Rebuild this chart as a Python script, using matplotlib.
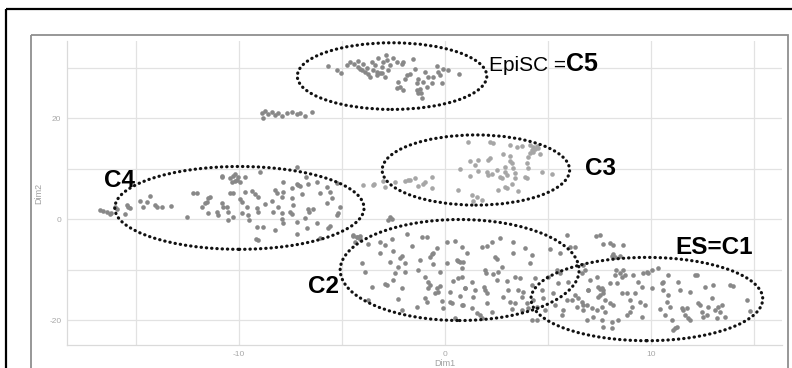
import numpy as np
import matplotlib
matplotlib.use("Agg")
import matplotlib.pyplot as plt
from matplotlib.patches import Ellipse, Rectangle

plt.rcParams['font.family'] = ['Liberation Sans', 'DejaVu Sans']
plt.rcParams['axes.unicode_minus'] = False

#### data (Dim1, Dim2) ####
c5_x = [-5.66, -5.23, -5.06, -4.77, -4.61, -4.42, -4.21, -4.13, -3.96, -3.88, -3.80, -3.72, -3.64,
        -3.56, -3.48, -3.40, -3.32, -3.24, -3.16, -3.07, -2.99, -2.91, -2.86, -2.83, -2.75, -2.67,
        -2.51, -2.35, -2.27, -2.18, -2.10, -2.02, -1.94, -1.86, -1.70, -1.57, -1.46, -1.37, -1.29,
        -1.21, -1.18, -1.13, -1.05, -0.97, -0.89, -0.81, -0.65, -0.57, -0.40, -0.32, -0.24, -0.16,
        -0.08, 0.16, 0.70, -2.35, -1.37, -1.29, -2.02, -4.21, -4.04, -3.32, -3.07]
c5_y = [30.3, 29.6, 28.9, 30.5, 31.0, 30.7, 31.3, 29.8, 30.7, 29.2, 30.0, 28.8, 28.2,
        31.1, 29.5, 30.5, 28.5, 31.8, 29.0, 30.2, 31.0, 28.1, 32.5, 31.5, 29.5, 30.5,
        31.8, 31.0, 27.2, 26.2, 30.7, 31.1, 27.7, 28.5, 28.8, 31.6, 29.8, 26.9, 27.7,
        25.7, 24.9, 23.9, 27.2, 29.2, 26.2, 28.2, 26.9, 28.2, 30.3, 29.2, 28.5, 26.9,
        29.8, 29.6, 28.7, 25.9, 25.5, 24.9, 25.5, 30.2, 29.6, 29.2, 29.0]

side_x = [-8.9, -8.74, -8.57, -8.41, -8.25, -8.09, -7.93, -7.69, -7.44, -7.2, -7.04, -6.79, -6.47, -8.85]
side_y = [21.0, 21.4, 20.8, 21.2, 20.6, 21.0, 20.4, 21.0, 21.2, 20.8, 21.0, 20.4, 21.2, 20.0]

c4_x = [-16.75, -16.58, -16.42, -16.26, -16.21, -16.02, -15.94, -15.53, -15.45, -15.37, -15.29,
        -14.81, -14.64, -14.48, -14.32, -14.08, -14.0, -13.75, -13.3, -12.54, -12.22, -12.05,
        -11.81, -11.57, -11.49, -11.41, -11.65, -11.52, -11.08, -11.03, -10.84,
        -10.44, -10.31, -10.19, -10.11, -10.03, -9.95, -10.19, -10.36, -9.71, -8.98, -10.84,
        -10.44, -10.28, -9.71, -9.38, -9.22, -9.06, -9.95, -9.87, -9.63, -10.6, -10.52, -10.28,
        -10.52, -9.87, -9.55, -9.5, -9.14, -9.06, -9.14, -8.82, -9.17, -9.06, -8.74, -8.41,
        -8.33, -8.17, -8.25, -7.93, -7.85, -7.85, -8.09, -7.93, -7.93, -7.88, -7.44, -7.44,
        -7.36, -7.52, -7.44, -7.2, -7.12, -7.04, -6.96, -7.17, -7.2, -6.8, -6.68, -6.63, -6.63,
        -6.58, -6.39, -6.23, -6.07, -6.23, -5.74, -5.74, -5.58, -5.66, -5.5, -5.26, -5.18,
        -5.26, -5.1, -5.58, -6.07, -8.25, -7.2, -6.75, -10.84, -10.76]
c4_y = [1.78, 1.65, 1.45, 1.0, 1.25, 2.44, 1.9, 1.0, 2.77, 2.3, 2.11,
        3.63, 2.44, 3.43, 4.62, 2.77, 2.44, 2.44, 2.57, 0.33, 5.22, 5.08,
        2.44, 3.43, 4.09, 4.29, 3.1, 1.12, 1.45, 0.79, 8.38,
        8.05, 8.51, 8.91, 7.72, 8.38, 7.39, 7.59, 7.39, 8.38, 9.37, 8.51,
        5.08, 5.08, 5.28, 5.61, 4.95, 4.42, 3.89, 3.43, 2.44, 2.44, 1.45, 0.46,
        -0.2, 1.12, 0.79, -0.2, 2.11, 1.45, -1.52, -1.65, -4.03, -4.16, 2.97, 3.63,
        1.32, 5.08, 5.74, 4.42, 7.39, 5.41, 2.44, 1.12, -0.07, -0.86, 6.07, 4.09,
        2.77, 1.45, 0.99, 6.93, 6.73, 6.53, 4.95, -0.53, -2.97, 0.13, -1.85, 6.93, 1.91,
        1.45, 1.91, 7.39, 5.08, -0.86, 6.4, 3.1, 5.41, -1.85, 4.09, 7.06, 1.12,
        0.79, 2.44, -1.39, -3.83, -2.18, 10.23, 8.38, 3.1, 2.44]

c3_x = [1.13, 2.18, 2.35, 3.16, 3.48, 3.72, 4.13, 4.29, 4.45, 4.21, 4.37, 4.53, 4.13, 2.83,
        3.16, 2.18, 2.1, 1.21, 1.62, 1.46, 0.73, 1.62, 2.02, 2.1, 2.27, 2.51, 2.67, 2.91,
        2.91, 2.99, 3.16, 3.24, 3.32, 3.4, 3.4, 3.97, 4.05, 3.88, 3.97, 4.69, 5.18, 2.91,
        2.99, 3.24, 3.56, 1.21, 1.3, 1.54, 1.78, 1.37, 2.59, 4.61, 4.29, 4.05, 2.75, 0.65,
        -3.48, -2.91, -2.99, -2.43, -1.94, -1.78, -1.70, -1.46, -1.30, -1.05, -0.97, -0.65,
        -0.65, -3.97, -3.45]
c3_y = [15.18, 15.18, 14.98, 14.65, 14.32, 14.52, 14.65, 14.32, 14.52, 13.66, 13.86, 14.0, 13.0, 12.81,
        12.54, 12.02, 11.68, 11.49, 11.68, 10.69, 9.9, 9.5, 9.24, 8.71, 8.84, 9.7, 8.38, 10.36,
        9.37, 8.71, 11.49, 11.02, 10.03, 9.04, 8.18, 11.02, 10.16, 8.38, 8.05, 9.24, 8.84, 6.4,
        6.07, 6.85, 5.54, 8.58, 4.75, 4.42, 3.76, 3.56, 5.74, 12.81, 13.33, 12.34, 8.05, 5.74,
        6.73, 6.4, 7.52, 7.39, 7.52, 7.72, 7.72, 8.18, 6.6, 6.85, 7.25, 8.38,
        6.2, 6.73, 6.93]

c2_x = [-4.45, -4.29, -4.13, -4.37, -3.72, -4.04, -3.88, -3.56, -3.72, -3.16, -2.91, -2.59, -2.51,
        -2.67, -2.43, -2.51, -2.91, -2.83, -2.1, -2.18, -1.94, -1.86, -1.62, -2.27, -1.94, -2.1,
        -2.27, -2.1, -1.21, -1.13, -0.89, -1.3, -0.97, -0.81, -0.73, -0.81, -0.97, -0.89, -1.37,
        -0.65, -0.57, -0.73, -0.57, -0.4, -0.24, -0.4, -0.32, -0.24, -0.49, -0.16, -0.08, 0.08,
        0.24, 0.24, 0.32, 0.49, 0.57, 0.65, 0.73, 0.4, 0.65, 0.73, 0.81, 0.89, 0.49, 0.08, 0.97,
        0.81, 1.05, 0.89, 0.81, 0.97, 0.81, 1.29, 1.46, 1.38, 1.29, 1.78, 2.02, 2.27, 2.43, 2.51,
        2.67, 2.75, 1.94, 1.99, 1.89, 1.94, 2.02, 2.02, 2.35, 2.51, 2.59, 2.83, 2.99, 3.07, 3.16,
        3.32, 3.32, 3.4, 3.4, 3.56, 3.64, 3.72, 3.8, 3.88, 3.96, 4.05, 4.13, 4.21, 4.21, 4.29,
        4.37, 4.45, 4.45, 4.69, 4.77, 4.85, 1.54, 1.78, 1.7, 2.27, 3.24, 3.72, 4.21,
        -4.45, -4.29, -4.13, -3.16, -2.67, -2.59, -2.75]
c2_y = [-3.17, -3.5, -3.37, -4.49, -4.95, -8.65, -10.43, -13.54, -16.04, -6.8, -5.15, -4.03, -6.27,
        -8.45, -10.63, -12.08, -12.87, -13.07, -7.33, -7.79, -8.65, -3.0, -5.35, -9.57, -10.43, -13.73,
        -15.91, -18.02, -8.12, -3.5, -3.63, -10.1, -11.42, -12.41, -13.07, -13.73, -15.71, -16.37, -17.36,
        -6.93, -6.8, -7.46, -8.91, -5.81, -10.43, -13.73, -14.39, -13.27, -14.72, -16.17, -17.69, -8.78,
        -14.39, -16.37, -16.7, -4.29, -8.12, -8.25, -8.45, -12.21, -11.75, -15.25, -9.77, -17.03, -19.67, -4.49, -13.73,
        -5.61, -6.67, -8.45, -11.42, -13.73, -17.03, -12.41, -14.06, -15.51, -17.69, -5.48, -5.35, -4.49, -7.46, -7.99,
        -3.83, -9.44, -10.1, -10.76, -13.4, -14.06, -14.72, -16.7, -10.89, -12.08, -10.43, -15.38, -12.21, -14.06, -16.37,
        -4.49, -6.8, -11.42, -16.57, -14.06, -11.75, -15.38, -14.39, -5.81, -16.7, -17.69, -8.78, -7.13, -13.07, -16.04,
        -11.75, -17.36, -20.0, -14.06, -15.71, -18.02, -18.68, -19.67, -19.01, -18.35, -17.89, -18.02, -20.0,
        -3.37, -3.63, -4.03, -4.49, 0.46, -0.07, -0.2]

c1_x = [5.1, 5.26, 5.34, 5.42, 5.5, 5.58, 5.66, 5.74, 5.91, 5.91, 5.99, 6.07, 6.15, 6.31, 6.31,
        6.39, 6.47, 6.72, 6.96, 5.58, 5.02, 7.33, 7.52, 7.69, 8.01, 8.14, 8.62, 8.17, 8.09, 8.25, 8.5,
        6.72, 6.63, 6.8, 7.36, 7.44, 7.52, 7.61, 7.69, 6.96, 6.88, 6.72, 6.63, 7.12, 7.2, 7.36,
        7.44, 7.52, 7.69, 7.77, 7.61, 7.77, 7.61, 7.69, 8.01, 8.09, 8.09, 8.17, 8.25, 8.3, 8.33,
        8.41, 8.5, 8.58, 8.58, 8.66, 8.74, 8.82, 8.98, 8.98, 9.06, 9.14, 9.22, 9.39, 9.47, 9.55,
        9.63, 9.71, 9.79, 9.87, 10.03, 10.03, 10.36, 10.44, 10.52, 10.57, 10.6, 10.68, 10.76, 10.84,
        10.84, 10.92, 11.0, 11.08, 11.17, 11.25, 11.33, 11.41, 11.49, 11.57, 11.65, 11.73, 11.81,
        11.89, 11.89, 12.22, 12.3, 12.38, 12.46, 12.54, 12.62, 12.7, 12.78, 12.95, 13.03, 13.11,
        13.19, 13.27, 13.35, 13.43, 13.59, 13.83, 14.0, 14.64, 14.81, 6.88, 7.04, 9.55, 8.82,
        12.14, 8.01]
c1_y = [-6.01, -14.72, -17.03, -10.1, -12.74, -6.8, -19.01, -18.02, -3.17, -16.04, -12.41, -5.48, -16.04, -5.61, -15.05,
        -17.36, -15.71, -17.03, -14.06, -10.76, -11.42, -3.43, -3.1, -4.95, -4.82, -5.15, -5.15, -6.93, -7.33, -7.46, -7.33,
        -9.11, -10.76, -10.1, -11.42, -13.4, -13.93, -13.73, -14.06, -14.06, -17.03, -18.02, -16.37, -17.69, -19.47, -18.02,
        -15.38, -15.05, -14.59, -16.04, -17.36, -18.35, -20.0, -21.32, -16.7, -20.33, -21.65, -17.03, -11.09, -10.1, -12.61,
        -20.0, -10.76, -11.42, -14.59, -10.1, -11.09, -19.01, -16.04, -18.35, -17.36, -11.09, -14.72, -12.41, -16.37, -19.34,
        -10.76, -17.03, -10.43, -10.76, -10.1, -13.73, -9.77, -17.89, -12.74, -12.41, -14.06, -19.01, -16.37, -15.05,
        -11.09, -17.36, -20.0, -21.98, -21.65, -21.32, -12.41, -14.06, -17.69, -18.02, -19.01, -17.69, -19.67,
        -14.39, -20.0, -11.09, -16.7, -17.03, -18.35, -19.34, -13.4, -19.01, -17.36, -15.71, -13.07, -18.02,
        -19.67, -17.36, -18.35, -17.03, -19.34, -13.07, -13.27, -16.04, -18.15, -20.0, -12.08, -13.4, -14.72,
        -11.09, -12.74]

# dotted cluster outlines: (centre x, centre y, width, height)
outlines = [(-2.57, 28.3, 9.2, 13.2),
            (-9.98, 2.2, 12.1, 16.4),
            (1.5, 9.7, 9.1, 13.9),
            (0.71, -10.1, 11.6, 20.0),
            (9.8, -15.85, 11.25, 16.5)]

#### figure ####
fig = plt.figure(figsize=(7.92, 3.68), dpi=100)

# frames around the chart (pixel coords)
bg = fig.add_axes([0, 0, 1, 1], zorder=-5)
bg.set_xlim(0, 792)
bg.set_ylim(368, 0)
bg.axis('off')
bg.add_patch(Rectangle((6, 9), 800, 380, fill=False, edgecolor='black', lw=1.6))
bg.add_patch(Rectangle((30.5, 35), 757.5, 380, fill=False, edgecolor='#8f8f8f', lw=1.3))

ax = fig.add_axes([67/792, 1-345/368, 715/792, 304/368])
grey = '#888888'
light = '#a6a6a6'
ms = 11
ax.scatter(c5_x, c5_y, s=ms, color=grey, lw=0, zorder=3)
ax.scatter(side_x, side_y, s=ms, color=grey, lw=0, zorder=3)
ax.scatter(c4_x, c4_y, s=ms, color=grey, lw=0, zorder=3)
ax.scatter(c3_x, c3_y, s=ms, color=light, lw=0, zorder=3)
ax.scatter(c2_x, c2_y, s=ms, color=grey, lw=0, zorder=3)
ax.scatter(c1_x, c1_y, s=ms, color=grey, lw=0, zorder=3)

for cx, cy, w, h in outlines:
    e = Ellipse((cx, cy), w, h, fill=False, edgecolor='#111111', lw=2.3,
                ls=(0, (0.1, 1.55)), zorder=4)
    e.set_capstyle('round')
    ax.add_patch(e)

ax.set_xlim(-18.35, 16.36)
ax.set_ylim(-24.95, 35.25)
ax.set_xticks([-10, 0, 10])
ax.set_xticks([-15, -5, 5, 15], minor=True)
ax.set_yticks([-20, 0, 20])
ax.set_yticks([-10, 10, 30], minor=True)
ax.grid(True, which='both', color='#e2e2e2', lw=0.9, zorder=0)
ax.set_axisbelow(True)
ax.tick_params(which='both', length=0, labelsize=6, labelcolor='#a8a8a8')
ax.tick_params(axis='x', pad=4)
ax.tick_params(axis='y', pad=4)
for s in ['top', 'right']:
    ax.spines[s].set_visible(False)
for s in ['left', 'bottom']:
    ax.spines[s].set_color('#dadada')
    ax.spines[s].set_linewidth(0.9)
ax.set_facecolor('white')

fig.text(39/792, 1-193/368, 'Dim2', rotation=90, ha='center', va='center', fontsize=6.5, color='#a0a0a0')
fig.text(445/792, 1-364/368, 'Dim1', ha='center', va='center', fontsize=6.5, color='#a0a0a0')

# cluster labels
ax.text(-15.8, 6.34, 'C4', fontsize=17.5, fontweight='bold', ha='center', va='baseline', zorder=5)
ax.text(-5.9, -14.65, 'C2', fontsize=17.5, fontweight='bold', ha='center', va='baseline', zorder=5)
ax.text(7.55, 8.7, 'C3', fontsize=17.5, fontweight='bold', ha='center', va='baseline', zorder=5)
ax.text(13.08, -6.93, 'ES=C1', fontsize=17.5, fontweight='bold', ha='center', va='baseline', zorder=5)
ax.text(2.12, 29.37, 'EpiSC =', fontsize=15, ha='left', va='baseline', zorder=5)
ax.text(5.87, 29.37, 'C5', fontsize=18, fontweight='bold', ha='left', va='baseline', zorder=5)

fig.savefig('out.png', dpi=100)
